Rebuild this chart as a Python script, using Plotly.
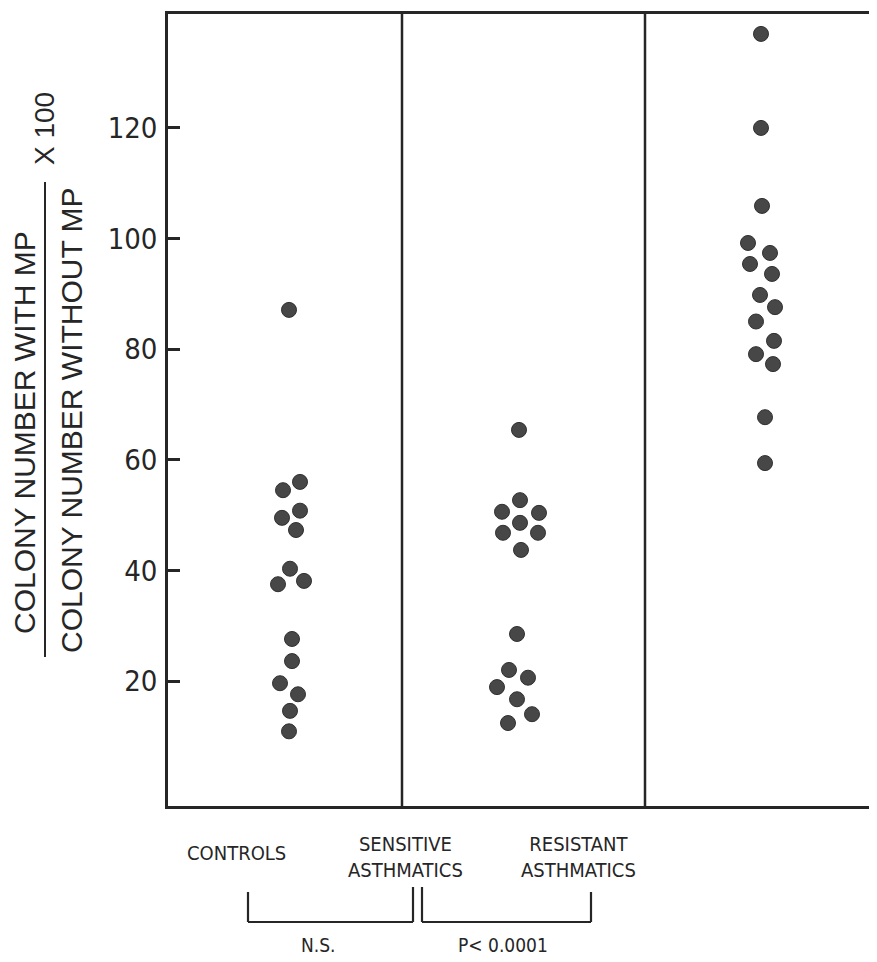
import plotly.graph_objects as go

# ---------------- data ----------------
groups = ["CONTROLS", "SENSITIVE<br>ASTHMATICS", "RESISTANT<br>ASTHMATICS"]

controls_values = [87.1, 56.0, 54.5, 50.8, 49.5, 47.3, 40.3, 38.1, 37.5,
                   27.6, 23.6, 19.6, 17.6, 14.6, 10.9]
sensitive_values = [65.4, 52.7, 50.6, 50.4, 48.6, 46.8, 46.8, 43.7,
                    28.5, 22.0, 20.6, 18.9, 16.7, 14.0, 12.4]
resistant_values = [137.0, 120.0, 105.9, 99.2, 97.4, 95.4, 93.6, 89.8,
                    87.6, 85.0, 81.5, 79.1, 77.3, 67.7, 59.4]

# horizontal scatter (beeswarm) offsets of each dot from its group centre
controls_jitter = [-1, 10, -7, 10, -8, 6, 0, 14, -12, 2, 2, -10, 8, 0, -1]
sensitive_jitter = [0, 1, -17, 20, 1, -16, 19, 2, -2, -10, 9, -22, -2, 13, -11]
resistant_jitter = [-2, -2, -1, -15, 7, -13, 9, -3, 12, -7, 11, -7, 10, 2, 2]

group_centres = [122, 351, 595]
panel_dividers = [234, 477]

y_ticks = [20, 40, 60, 80, 100, 120]
sig_labels = ["N.S.", "P< 0.0001"]

# ---------------- layout constants ----------------
PAGE_OFF = 8                      # default body margin of the html page
W, H = 877 - PAGE_OFF, 962 - PAGE_OFF
ML, MR, MT, MB = 160, 0, 6, 156
PW, PH = W - ML - MR, H - MT - MB
XR = [0, PW]
YR = [-2.6, 140.6]

INK = "#262626"
DOT = "#474747"
NARROW = "DejaVu Sans Condensed, Liberation Sans Narrow, Arial Narrow, sans-serif"
SANS = "Liberation Sans, Arial, Helvetica, sans-serif"


def px_x(px):
    return (px - PAGE_OFF - ML) / PW


def px_y(py):
    return (H - MB - (py - PAGE_OFF)) / PH


fig = go.Figure()

for vals, jit, cx in zip([controls_values, sensitive_values, resistant_values],
                         [controls_jitter, sensitive_jitter, resistant_jitter],
                         group_centres):
    fig.add_trace(go.Scatter(
        x=[cx + j for j in jit], y=vals, mode="markers",
        marker=dict(size=15, color=DOT, line=dict(color="#303030", width=1)),
        showlegend=False, hoverinfo="y"))

shapes = []
for d in panel_dividers:
    shapes.append(dict(type="line", xref="x", yref="paper", x0=d, x1=d, y0=0, y1=1,
                       line=dict(color=INK, width=2.5)))


def bracket(x0, x1, ytop0, ytop1, ybot):
    return [
        dict(type="line", xref="x", yref="paper", x0=x0, x1=x0, y0=px_y(ytop0), y1=px_y(ybot),
             line=dict(color=INK, width=2.2)),
        dict(type="line", xref="x", yref="paper", x0=x0, x1=x1, y0=px_y(ybot), y1=px_y(ybot),
             line=dict(color=INK, width=2.2)),
        dict(type="line", xref="x", yref="paper", x0=x1, x1=x1, y0=px_y(ytop1), y1=px_y(ybot),
             line=dict(color=INK, width=2.2)),
    ]


shapes += bracket(80, 245, 892, 887, 922)
shapes += bracket(254, 423, 887, 892, 922)

# fraction bar of the y title
shapes.append(dict(type="line", xref="paper", yref="paper", x0=px_x(45), x1=px_x(45),
                   y0=px_y(657), y1=px_y(182), line=dict(color=INK, width=2)))

annotations = []
label_pos = [(68, 853), (237, 857), (410, 857)]
for g, (lx, ly) in zip(groups, label_pos):
    annotations.append(dict(text=g, xref="x", yref="paper", x=lx, y=px_y(ly),
                            showarrow=False, xanchor="center", yanchor="middle",
                            font=dict(family=NARROW, size=20, color=INK)))
for s, lx in zip(sig_labels, [150, 335]):
    annotations.append(dict(text=s, xref="x", yref="paper", x=lx, y=px_y(945),
                            showarrow=False, xanchor="center", yanchor="middle",
                            font=dict(family=NARROW, size=19, color=INK)))

annotations.append(dict(text="COLONY NUMBER WITH MP", xref="paper", yref="paper",
                        x=px_x(25), y=px_y(433), textangle=-90, showarrow=False,
                        xanchor="center", yanchor="middle",
                        font=dict(family=SANS, size=30, color=INK)))
annotations.append(dict(text="COLONY NUMBER WITHOUT MP", xref="paper", yref="paper",
                        x=px_x(71), y=px_y(420), textangle=-90, showarrow=False,
                        xanchor="center", yanchor="middle",
                        font=dict(family=SANS, size=30, color=INK)))
annotations.append(dict(text="X 100", xref="paper", yref="paper",
                        x=px_x(44), y=px_y(129), textangle=-90, showarrow=False,
                        xanchor="center", yanchor="middle",
                        font=dict(family=SANS, size=28, color=INK)))

fig.update_layout(
    width=W, height=H,
    margin=dict(l=ML, r=MR, t=MT, b=MB, pad=0),
    paper_bgcolor="white", plot_bgcolor="white",
    shapes=shapes, annotations=annotations,
    xaxis=dict(range=XR, showgrid=False, zeroline=False, showticklabels=False,
               ticks="", showline=True, mirror=True, linecolor=INK, linewidth=2.5,
               fixedrange=True),
    yaxis=dict(range=YR, tickvals=y_ticks, ticks="inside", ticklen=12, tickwidth=2.5,
               tickcolor=INK, showgrid=False, zeroline=False, showline=True,
               linecolor=INK, linewidth=2.5, ticklabelstandoff=2,
               tickfont=dict(family=NARROW, size=29, color=INK), fixedrange=True),
)

fig.write_html("out.html")
